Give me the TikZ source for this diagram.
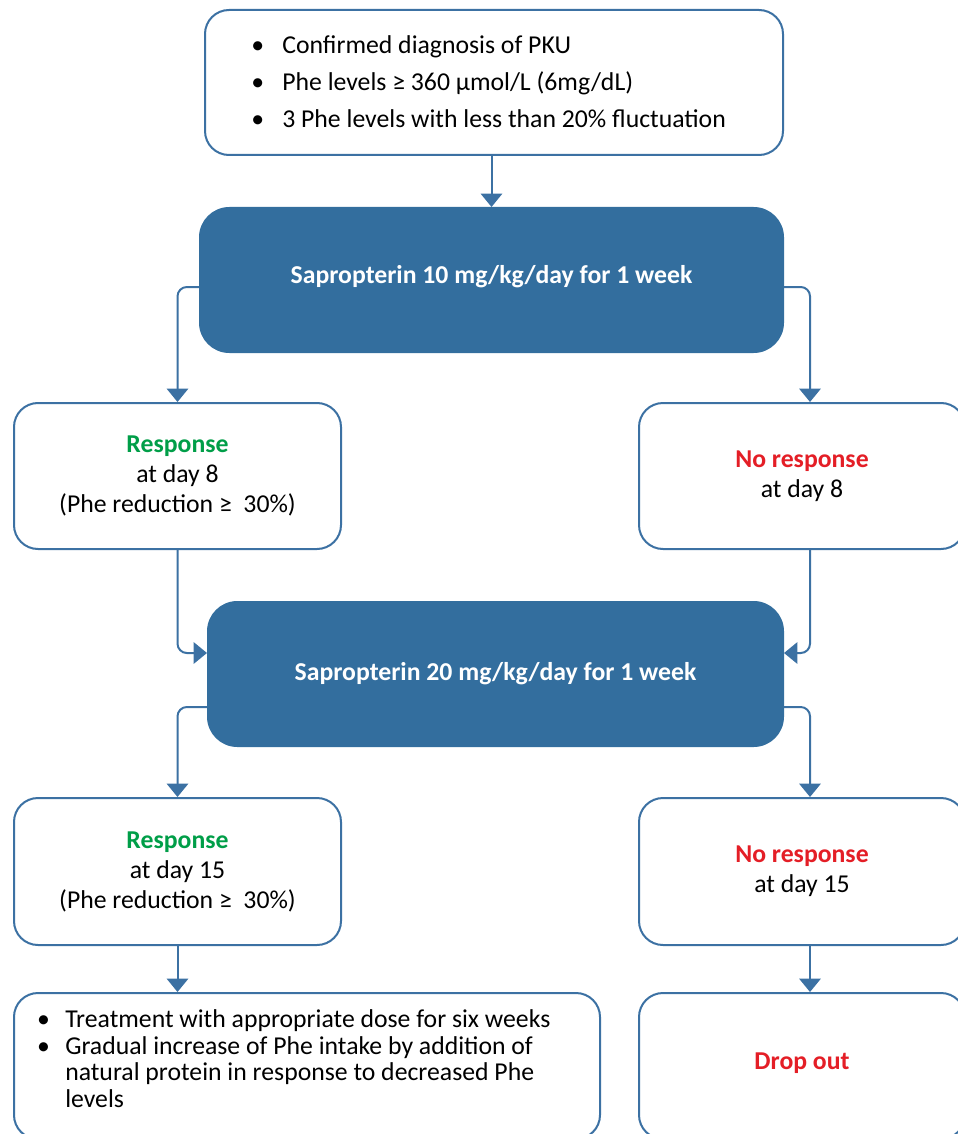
\documentclass[tikz,border=0pt]{standalone}
\usepackage{fontspec}
\setmainfont{Carlito}
\usepackage{xcolor}
\usetikzlibrary{arrows.meta}

\definecolor{boxblue}{RGB}{51,110,158}
\definecolor{lineblue}{RGB}{60,113,163}
\definecolor{resgreen}{RGB}{0,158,72}
\definecolor{nored}{RGB}{228,30,38}

\newcommand{\pkubul}[1][0.6em]{\textbullet\hspace{#1}}
\newcommand{\pkuind}{\hphantom{\pkubul}}

\tikzset{
	box/.style={draw=lineblue, line width=1.5pt, rounded corners=18pt, fill=white,
		align=center, font=\fontsize{19.3}{22.5}\selectfont},
	dosebox/.style={box, fill=boxblue, draw=boxblue, text=white, rounded corners=22pt,
		font=\fontsize{19.3}{22.5}\selectfont\bfseries},
	conn/.style={draw=lineblue, line width=1.5pt, rounded corners=7pt,
		-{Triangle[width=16pt,length=10pt]}},
}

\begin{document}
\begin{tikzpicture}[x=0.75pt, y=-0.75pt]
		\useasboundingbox (0,0) rectangle (957,1134);
		
		\coordinate (C) at (494, 82.5);
		\coordinate (S1) at (491.5, 280);
		\coordinate (R1) at (177.5, 476);
		\coordinate (N1) at (802, 476);
		\coordinate (S2) at (495.5, 674);
		\coordinate (R2) at (177.5, 871.5);
		\coordinate (N2) at (802, 871.5);
		\coordinate (T) at (307, 1066);
		\coordinate (D) at (802, 1066);
		
		\node[box, minimum width=433.5pt, minimum height=108.75pt] (crit) at (C)
			{\raisebox{-1.5pt}[\height][\depth]{\begin{tabular}{@{}l@{}}
			 \pkubul[0.7em]Confirmed diagnosis of PKU\\[5pt]
			 \pkubul[0.7em]Phe levels ≥ 360 µmol/L (6mg/dL)\\[5pt]
			 \pkubul[0.7em]3 Phe levels with less than 20\% fluctuation
			 \end{tabular}}\hspace{8pt}};
		\node[dosebox, minimum width=437.25pt, minimum height=108pt] (dose10) at (S1)
			{\raisebox{8pt}{Sapropterin 10 mg/kg/day for 1 week}};
		\node[box, minimum width=245.25pt, minimum height=109.5pt] (resp8) at (R1)
			{\textcolor{resgreen}{\bfseries Response}\\ at day 8\\ (Phe reduction ≥\ \ 30\%)};
		\node[box, minimum width=244.5pt, minimum height=109.5pt] (noresp8) at (N1)
			{\textcolor{nored}{\bfseries No response}\\ at day 8};
		\node[dosebox, minimum width=431.25pt, minimum height=108pt] (dose20) at (S2)
			{\raisebox{3pt}{Sapropterin 20 mg/kg/day for 1 week}};
		\node[box, minimum width=245.25pt, minimum height=110.25pt] (resp15) at (R2)
			{\textcolor{resgreen}{\bfseries Response}\\ at day 15\\ (Phe reduction ≥\ \ 30\%)};
		\node[box, minimum width=244.5pt, minimum height=110.25pt] (noresp15) at (N2)
			{\textcolor{nored}{\bfseries No response}\\ at day 15};
		\node[box, minimum width=439.5pt, minimum height=109.5pt,
			font=\fontsize{19.3}{20}\selectfont] (treat) at (T)
			{\raisebox{3pt}[\height][\depth]{\begin{tabular}{@{}l@{}}
			 \pkubul Treatment with appropriate dose for six weeks\\
			 \pkubul Gradual increase of Phe intake by addition of\\
			 \pkuind natural protein in response to decreased Phe\\
			 \pkuind levels
			 \end{tabular}}\hspace{20pt}};
		\node[box, minimum width=244.5pt, minimum height=109.5pt] (drop) at (D)
			{\raisebox{8pt}{\textcolor{nored}{\bfseries Drop out}}};
		
		\draw[conn] (crit.south -| dose10.north) -- (dose10.north);
		
		\draw[conn] ([yshift=-5.25pt]dose10.west) -| (resp8.north);
		\draw[conn] ([yshift=-5.25pt]dose10.east) -| ([xshift=6pt]noresp8.north);
		\draw[conn] (resp8.south) |- ([yshift=15.75pt]dose20.west);
		\draw[conn] ([xshift=6pt]noresp8.south) |- ([yshift=15.75pt]dose20.east);
		
		\draw[conn] ([yshift=-24.75pt]dose20.west) -| (resp15.north);
		\draw[conn] ([yshift=-24.75pt]dose20.east) -| ([xshift=6pt]noresp15.north);
		
		\draw[conn] (resp15.south) -- (resp15.south |- treat.north);
		\draw[conn] ([xshift=6pt]noresp15.south) -- ([xshift=6pt]drop.north);
	
	\end{tikzpicture}
\end{document}
